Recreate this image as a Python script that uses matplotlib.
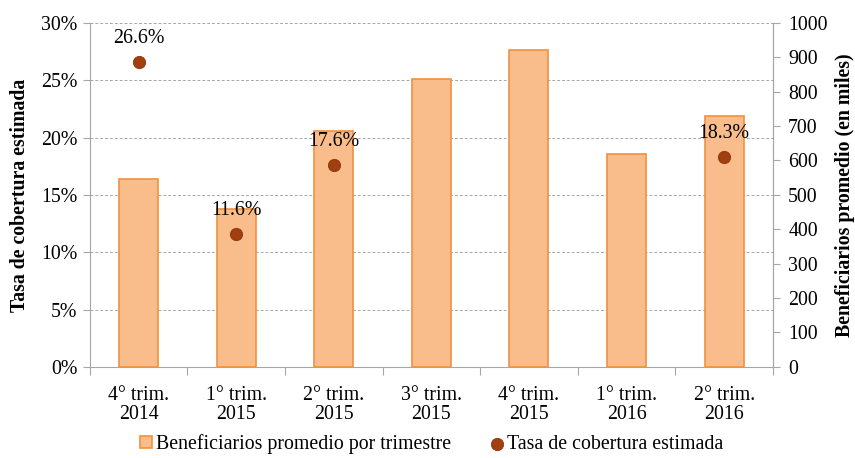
import matplotlib.pyplot as plt
from matplotlib.ticker import MultipleLocator, FuncFormatter

plt.rcParams['font.family'] = ['Liberation Serif', 'DejaVu Serif']

# 数据
trimestres = ['4° trim.\n2014', '1° trim.\n2015', '2° trim.\n2015', '3° trim.\n2015',
              '4° trim.\n2015', '1° trim.\n2016', '2° trim.\n2016']
beneficiarios = [546, 458, 686, 838, 921, 619, 728]
tasa_idx = [0, 1, 2, 6]
tasa = [26.6, 11.6, 17.6, 18.3]

bar_fc = '#F9BD8C'
bar_ec = '#F0913E'
dot_c = '#A23F0E'
gris = '#A6A6A6'
fs = 14.3

fig = plt.figure(figsize=(8.55, 4.58), dpi=100)
ax = fig.add_axes([0.105, 0.199, 0.799, 0.751])
ax2 = ax.twinx()
ax3 = ax.twinx()

x = list(range(len(trimestres)))

# 左轴: 网格和百分比
ax.set_ylim(0, 30)
ax.yaxis.set_major_locator(MultipleLocator(5))
ax.yaxis.set_major_formatter(FuncFormatter(lambda v, p: f'{v:.0f}%'))
ax.grid(axis='y', linestyle=(0, (3, 2)), color='#A8A8A8', linewidth=0.7)
ax.set_ylabel('Tasa de cobertura estimada', fontsize=fs, fontweight='bold', labelpad=8)

# 右轴: 柱状图
ax2.bar(x, beneficiarios, width=0.4, color=bar_fc, edgecolor=bar_ec, linewidth=1.2,
        label='Beneficiarios promedio por trimestre')
ax2.set_ylim(0, 1000)
ax2.yaxis.set_major_locator(MultipleLocator(100))
ax2.set_ylabel('Beneficiarios promedio (en miles)', fontsize=fs, fontweight='bold', labelpad=5)

# 散点和数值标签
ax3.set_ylim(0, 30)
ax3.scatter([x[i] for i in tasa_idx], tasa, s=78, color=dot_c, edgecolor='#8A3510',
            linewidth=0.6, zorder=5, label='Tasa de cobertura estimada')
for i, v in zip(tasa_idx, tasa):
    ax3.annotate(f'{v:.1f}%', (x[i], v), xytext=(0, 10), textcoords='offset points',
                 ha='center', va='bottom', fontsize=fs)
ax3.axis('off')

ax.set_xlim(-0.5, len(trimestres) - 0.5)
ax.set_xticks([i - 0.5 for i in range(len(trimestres) + 1)])
ax.set_xticklabels([])
ax.set_xticks(x, minor=True)
ax.set_xticklabels(trimestres, minor=True, fontsize=fs, linespacing=1.0)
ax.tick_params(axis='x', which='minor', length=0, pad=14)
ax.tick_params(axis='x', which='major', length=6, color=gris, direction='out')
ax.tick_params(axis='y', labelsize=fs, length=5, color=gris, pad=4)
ax2.tick_params(axis='y', labelsize=fs, length=5, color=gris, pad=6)

for a in (ax, ax2, ax3):
    a.spines['top'].set_visible(False)
    for s in ('left', 'right', 'bottom'):
        a.spines[s].set_color(gris)
ax2.spines['left'].set_visible(False)
ax2.spines['bottom'].set_visible(False)

h1, l1 = ax2.get_legend_handles_labels()
h2, l2 = ax3.get_legend_handles_labels()
fig.legend(h1 + h2, l1 + l2, loc='lower center', bbox_to_anchor=(0.505, -0.03), ncol=2,
           frameon=False, fontsize=fs, handlelength=0.6, handleheight=0.6,
           handletextpad=0.2, columnspacing=2.0)

plt.savefig('out.png', dpi=100)
